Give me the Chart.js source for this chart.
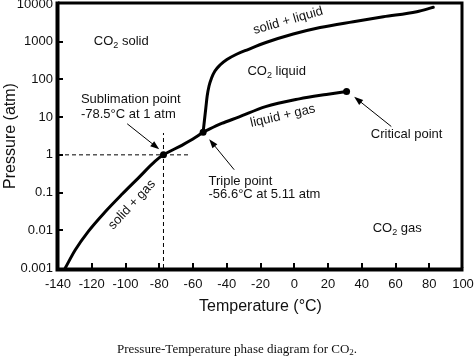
<!DOCTYPE html>
<html><head><meta charset="utf-8">
<script src="https://cdn.jsdelivr.net/npm/chart.js@4/dist/chart.umd.min.js"></script>
<style>
html,body{margin:0;padding:0;background:#fff;}
#wrap{position:relative;width:474px;height:360px;overflow:hidden;}
#caption{position:absolute;left:0;top:341px;width:474px;text-align:center;font:13px "Liberation Serif","Times New Roman",serif;color:#111;line-height:16px;}
#caption sub{font-size:9px;vertical-align:-2px;line-height:0;}
</style></head><body>
<div id="wrap"><canvas id="c" width="474" height="360"></canvas><div id="caption">Pressure-Temperature phase diagram for CO<sub>2</sub>.</div></div>
<script>
// ---- data (temperature °C, pressure atm) ----
const sublimationT = [-135.7, -129.8, -121.9, -112.0, -102.1, -92.3, -82.4, -77.5, -66.6, -58.7, -54.0];
const sublimationP = [0.001, 0.003, 0.0095, 0.031, 0.090, 0.246, 0.68, 1, 1.79, 2.87, 4.0];

const meltingT = [-54.0, -53.2, -52.4, -51.6, -50.5, -49.0, -47.0, -44.0, -39.9, -34.5, -27.4, -16.8, -0.6, 15.3, 35.0, 52.8, 72.6, 82.4];
const meltingP = [4.0, 8.4, 17.5, 36.3, 67, 109, 167, 241, 337, 458, 621, 951, 1600, 2380, 3400, 4600, 6250, 8170];

const vaporT = [-54.0, -43.0, -33.0, -17.0, 3.0, 19.0, 31.0];
const vaporP = [4.0, 6.8, 10.0, 19.0, 30.5, 40.0, 48.0];

const keyPointT = [-77.5, -54.0, 31.0];   // sublimation, triple, critical
const keyPointP = [1, 4.0, 48.0];

const guideVerticalT = [-77.5, -77.5];
const guideVerticalP = [0.001, 3.8];
const guideHorizontalT = [-140, -62];
const guideHorizontalP = [1, 1];

const xTickValues = [-140, -120, -100, -80, -60, -40, -20, 0, 20, 40, 60, 80, 100];
const yTickValues = [0.001, 0.01, 0.1, 1, 10, 100, 1000, 10000];

const pts = (xs, ys) => xs.map((x, i) => ({x: x, y: ys[i]}));

// ---- annotations (positioned in data space) ----
const labels = [
  {parts: [{t: 'CO'}, {t: '2', sub: true}, {t: ' solid'}], T: -102.5, P: 1000, align: 'center'},
  {parts: [{t: 'Sublimation point'}], T: -126.4, P: 28.9, align: 'left'},
  {parts: [{t: '-78.5°C at 1 atm'}], T: -126.4, P: 11.7, align: 'left'},
  {parts: [{t: 'solid + liquid'}], T: -3.6, P: 3600, align: 'center', rot: -16},
  {parts: [{t: 'CO'}, {t: '2', sub: true}, {t: ' liquid'}], T: -10.4, P: 163, align: 'center'},
  {parts: [{t: 'liquid + gas'}], T: -6.8, P: 10.7, align: 'center', rot: -13},
  {parts: [{t: 'Critical point'}], T: 66.6, P: 3.43, align: 'center'},
  {parts: [{t: 'Triple point'}], T: -50.8, P: 0.203, align: 'left'},
  {parts: [{t: '-56.6°C at 5.11 atm'}], T: -50.8, P: 0.090, align: 'left'},
  {parts: [{t: 'solid + gas'}], T: -96.2, P: 0.0475, align: 'center', rot: -47},
  {parts: [{t: 'CO'}, {t: '2', sub: true}, {t: ' gas'}], T: 61, P: 0.011, align: 'center'}
];
const arrows = [
  {from: [57.5, 5.65], to: [35.5, 34.6]},
  {from: [-35.6, 0.404], to: [-50.4, 2.6]},
  {from: [-99, 6.67], to: [-80, 1.41]}
];

const FONT = '"Liberation Sans", Arial, Helvetica, sans-serif';
const TEXT = '#111';

function drawRich(ctx, parts, x, y, align) {
  const normal = '13px ' + FONT, small = '9px ' + FONT;
  const widths = parts.map(p => { ctx.font = p.sub ? small : normal; return ctx.measureText(p.t).width; });
  const total = widths.reduce((a, b) => a + b, 0);
  let cx = align === 'center' ? x - total / 2 : x;
  ctx.textAlign = 'left';
  ctx.textBaseline = 'middle';
  parts.forEach((p, i) => {
    ctx.font = p.sub ? small : normal;
    ctx.fillText(p.t, cx, y + (p.sub ? 4 : 0));
    cx += widths[i];
  });
}

const phasePlugin = {
  id: 'phase',
  afterDraw(chart) {
    const ctx = chart.ctx, xs = chart.scales.x, ys = chart.scales.y, a = chart.chartArea;
    ctx.save();
    ctx.strokeStyle = '#000';
    ctx.lineCap = 'butt';
    // frame
    ctx.lineWidth = 3;
    ctx.beginPath();
    ctx.moveTo(a.left, a.top - 1); ctx.lineTo(a.right - 1, a.top - 1); ctx.lineTo(a.right - 1, a.bottom);
    ctx.stroke();
    ctx.lineWidth = 4;
    ctx.beginPath();
    ctx.moveTo(a.left - 0.5, a.top - 2.5); ctx.lineTo(a.left - 0.5, a.bottom + 1.5); ctx.lineTo(a.right + 0.5, a.bottom + 1.5);
    ctx.stroke();
    // inward ticks
    ctx.lineWidth = 2;
    xTickValues.slice(1, -1).forEach(v => {
      const px = Math.round(xs.getPixelForValue(v));
      ctx.beginPath(); ctx.moveTo(px, a.bottom); ctx.lineTo(px, a.bottom - 5); ctx.stroke();
    });
    yTickValues.slice(1, -1).forEach(v => {
      const py = Math.round(ys.getPixelForValue(v));
      ctx.beginPath(); ctx.moveTo(a.left, py); ctx.lineTo(a.left + 5, py); ctx.stroke();
    });
    // arrows
    ctx.lineWidth = 1;
    ctx.fillStyle = '#000';
    arrows.forEach(ar => {
      const x1 = xs.getPixelForValue(ar.from[0]), y1 = ys.getPixelForValue(ar.from[1]);
      const x2 = xs.getPixelForValue(ar.to[0]), y2 = ys.getPixelForValue(ar.to[1]);
      const ang = Math.atan2(y2 - y1, x2 - x1);
      const L = 9, W = 3.2;
      ctx.beginPath(); ctx.moveTo(x1, y1); ctx.lineTo(x2 - Math.cos(ang) * L * 0.8, y2 - Math.sin(ang) * L * 0.8); ctx.stroke();
      ctx.beginPath();
      ctx.moveTo(x2, y2);
      ctx.lineTo(x2 - Math.cos(ang) * L - Math.sin(ang) * W, y2 - Math.sin(ang) * L + Math.cos(ang) * W);
      ctx.lineTo(x2 - Math.cos(ang) * L + Math.sin(ang) * W, y2 - Math.sin(ang) * L - Math.cos(ang) * W);
      ctx.closePath(); ctx.fill();
    });
    // labels
    ctx.fillStyle = TEXT;
    labels.forEach(l => {
      const px = xs.getPixelForValue(l.T), py = ys.getPixelForValue(l.P);
      ctx.save();
      ctx.translate(px, py);
      if (l.rot) ctx.rotate(l.rot * Math.PI / 180);
      drawRich(ctx, l.parts, 0, 0, l.align);
      ctx.restore();
    });
    ctx.restore();
  }
};

const curve = (data) => ({
  data: data, showLine: true, borderColor: '#000', borderWidth: 3, pointRadius: 0,
  cubicInterpolationMode: 'monotone', fill: false, borderCapStyle: 'round', borderJoinStyle: 'round'
});
const guide = (data) => ({
  data: data, showLine: true, borderColor: '#000', borderWidth: 1, borderDash: [4, 3], pointRadius: 0, fill: false
});

new Chart(document.getElementById('c'), {
  type: 'scatter',
  data: {
    datasets: [
      guide(pts(guideVerticalT, guideVerticalP)),
      guide(pts(guideHorizontalT, guideHorizontalP)),
      curve(pts(sublimationT, sublimationP)),
      curve(pts(meltingT, meltingP)),
      curve(pts(vaporT, vaporP)),
      {data: pts(keyPointT, keyPointP), pointRadius: 3.5, pointBackgroundColor: '#000', pointBorderColor: '#000', pointBorderWidth: 0, showLine: false}
    ]
  },
  options: {
    responsive: false,
    animation: false,
    devicePixelRatio: 1,
    layout: {padding: {top: 4, right: 11, left: 0, bottom: 0}},
    plugins: {legend: {display: false}, tooltip: {enabled: false}},
    scales: {
      x: {
        type: 'linear', min: -140, max: 100,
        afterBuildTicks: s => { s.ticks = xTickValues.map(v => ({value: v})); },
        afterFit: s => { s.height = 92; s.paddingLeft = 0; s.paddingRight = 0; },
        grid: {display: false, drawTicks: false},
        border: {display: false},
        ticks: {autoSkip: false, maxRotation: 0, padding: 9, color: TEXT, font: {family: FONT, size: 13}, callback: v => String(v)},
        title: {display: true, text: 'Temperature (°C)', color: TEXT, font: {family: FONT, size: 16}, padding: {top: 0, bottom: 44}}
      },
      y: {
        type: 'logarithmic', min: 0.001, max: 10000,
        afterBuildTicks: s => { s.ticks = yTickValues.map(v => ({value: v})); },
        afterFit: s => { s.width = 58; s.paddingTop = 0; s.paddingBottom = 0; },
        grid: {display: false, drawTicks: false},
        border: {display: false},
        ticks: {autoSkip: false, padding: 5, color: TEXT, font: {family: FONT, size: 13}, callback: v => String(v)},
        title: {display: true, text: 'Pressure (atm)', color: TEXT, font: {family: FONT, size: 16}, padding: {top: 1, bottom: 0}}
      }
    }
  },
  plugins: [phasePlugin]
});
</script>
</body></html>
